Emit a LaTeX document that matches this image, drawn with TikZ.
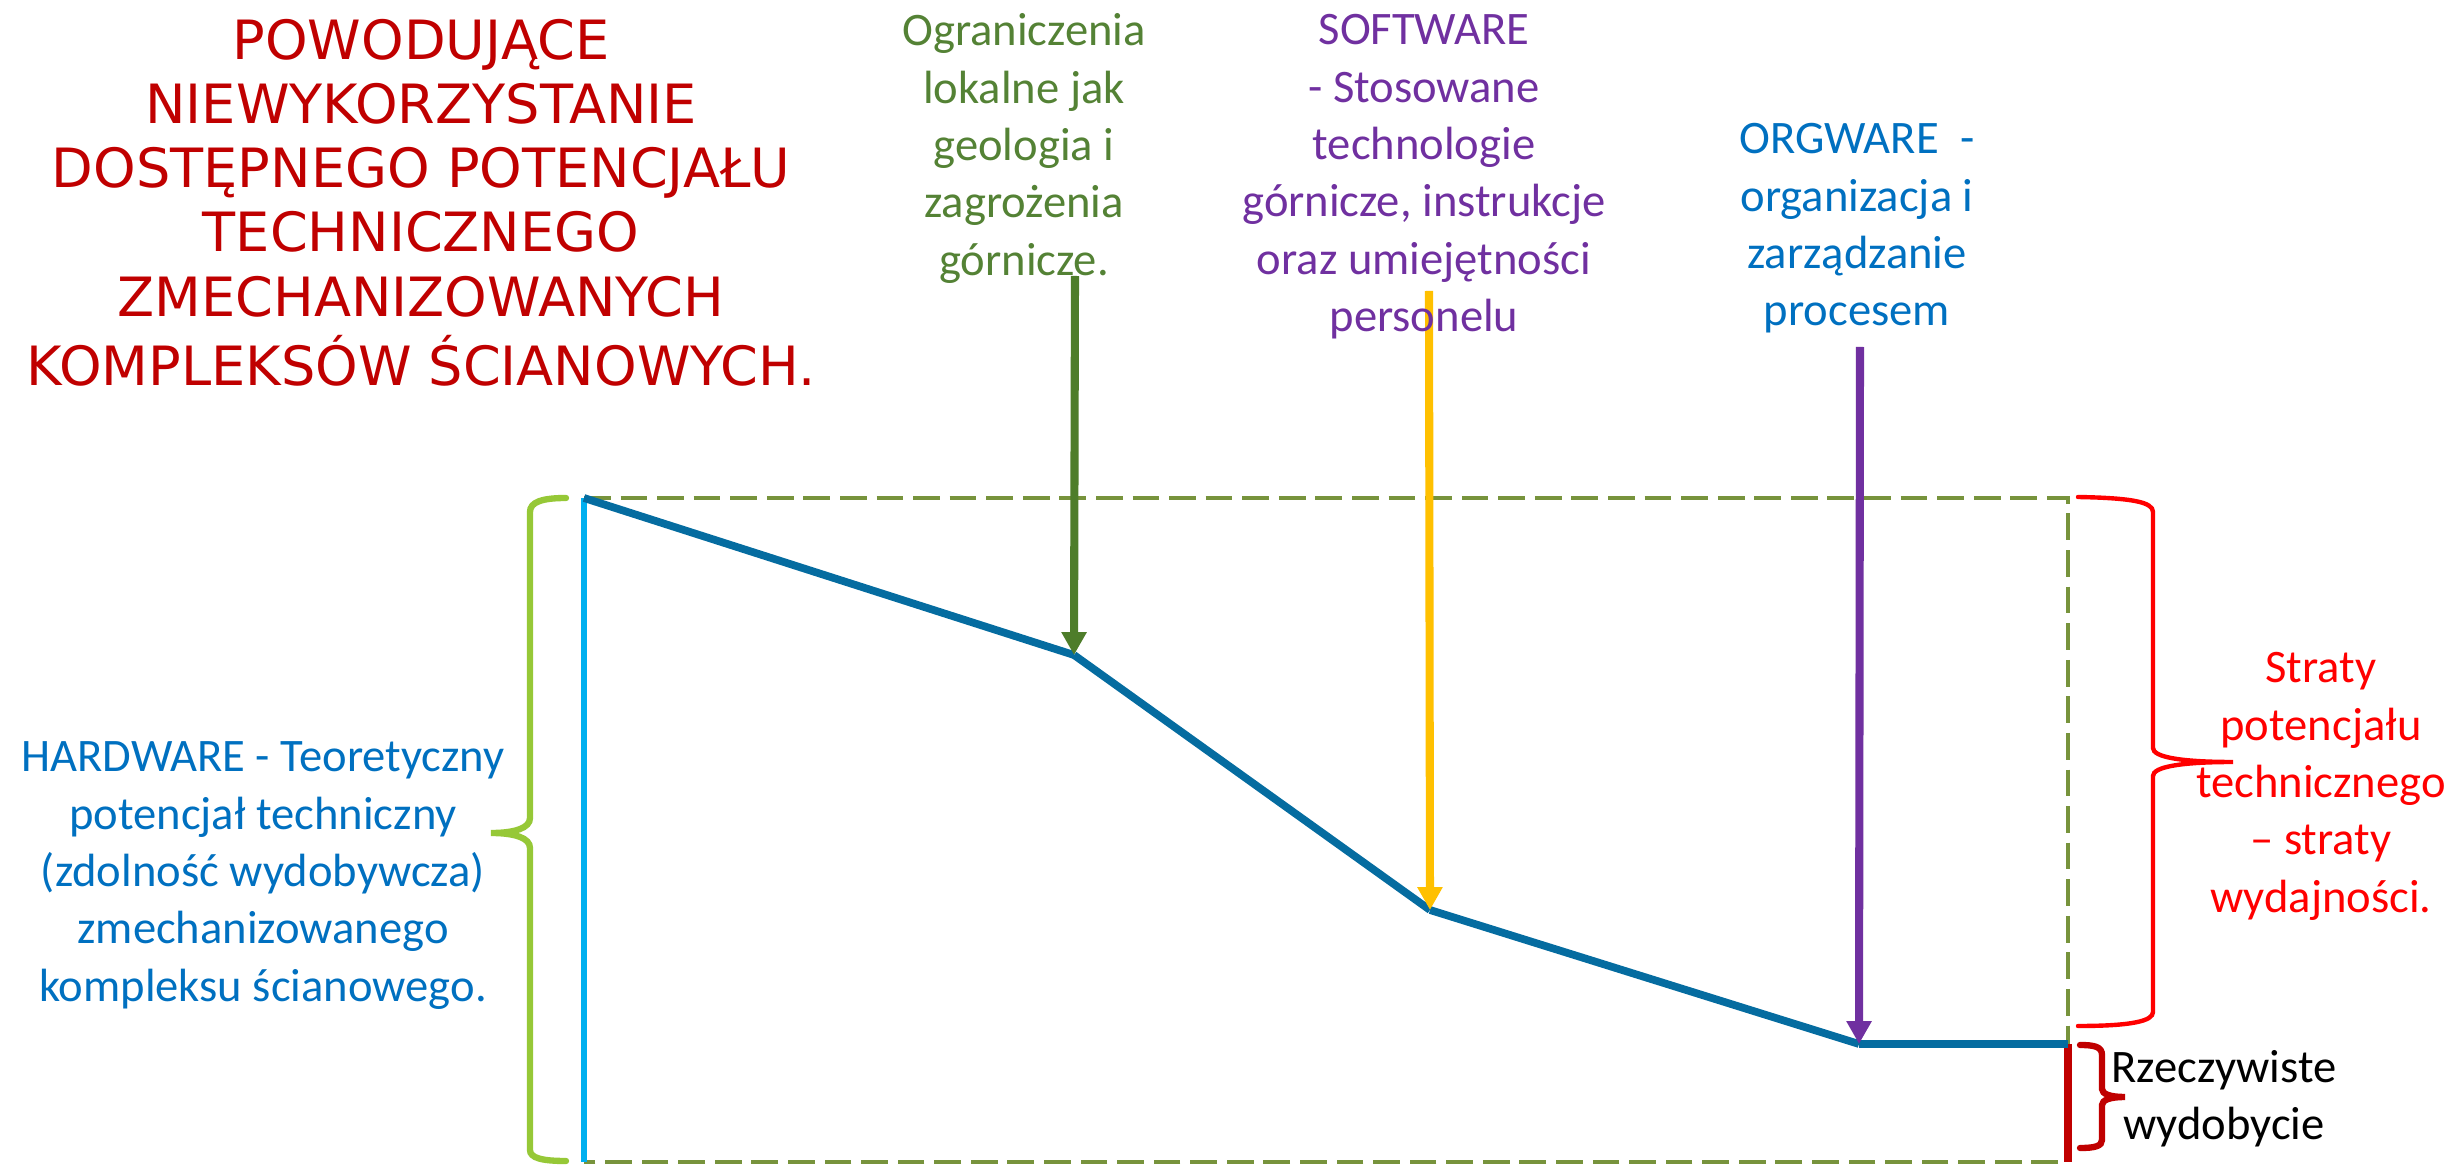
\documentclass[tikz,border=0pt]{standalone}
\usepackage{fontspec}
\setmainfont{Carlito}
\newfontfamily\titlefont{DejaVu Sans}
\usetikzlibrary{arrows.meta}
\newcommand{\stackl}[1]{\begin{tabular}[t]{@{}c@{}}#1\end{tabular}}
\definecolor{titlered}{RGB}{192,0,0}
\definecolor{labgreen}{RGB}{84,130,53}
\definecolor{arrgreen}{RGB}{78,125,42}
\definecolor{labpurple}{RGB}{112,48,160}
\definecolor{labblue}{RGB}{0,112,192}
\definecolor{brightred}{RGB}{255,0,0}
\definecolor{darkred}{RGB}{192,0,0}
\definecolor{arryellow}{RGB}{255,192,0}
\definecolor{curveblue}{RGB}{5,108,160}
\definecolor{dasholive}{RGB}{119,147,60}
\definecolor{bracegreen}{RGB}{150,200,55}
\definecolor{linecyan}{RGB}{0,176,240}
\tikzset{
  lbl/.style={inner sep=0pt, anchor=base, font=\fontsize{13.25}{16.3}\selectfont},
  ttl/.style={inner sep=0pt, anchor=base, font=\titlefont\fontsize{15.4}{18.2}\selectfont, text=titlered},
  curve/.style={line width=2.2pt, draw=curveblue},
  arr/.style={line width=2.3pt, -{Triangle[width=6.8pt,length=6.5pt]}},
  frame/.style={draw=dasholive, line width=1.15pt, dash pattern=on 7.6pt off 2.8pt},
  bracestroke/.style={line width=#1, line cap=round},
}
\begin{document}
\begin{tikzpicture}[x=0.01cm, y=-0.01cm]
\useasboundingbox (0,0) rectangle (2456,1167);

% key points of the curve
\coordinate (p0) at (584,498);
\coordinate (p1) at (1074,655);
\coordinate (p2) at (1430,910);
\coordinate (p3) at (1859,1044);
\coordinate (p4) at (2068,1044);
\coordinate (tr) at (2068,498);
\coordinate (br) at (2068,1162);
\coordinate (bl) at (584,1162);

% dashed frame
\draw[frame] (p0) -- (tr) -- (br) -- (bl);

% cyan vertical line
\draw[draw=linecyan, line width=1.5pt] (p0) -- (bl);

% dark red real output bar
\draw[draw=darkred, line width=2.5pt] (p4) -- (br);

% descending curve
\draw[curve] (p0) -- (p1);
\draw[curve] (p1) -- (p2);
\draw[curve] (p2) -- (p3);
\draw[curve] (p3) -- (p4);

% arrows
\coordinate (gtop) at (1075,276);
\coordinate (ytop) at (1429,291);
\coordinate (ptop) at (1860,347);
\draw[arr, draw=arrgreen, fill=arrgreen] (gtop) -- (p1);
\draw[arr, draw=arryellow, fill=arryellow] (ytop) -- (p2);
\draw[arr, draw=labpurple, fill=labpurple] (ptop) -- (p3);

% left green brace
\draw[bracestroke=1.8pt, draw=bracegreen]
  (566,498) .. controls (542,498) and (530,502) .. (530,512) -- (530,818)
  .. controls (530,828) and (515,833) .. (491,833)
  .. controls (515,833) and (530,838) .. (530,848) -- (530,1150)
  .. controls (530,1158) and (542,1161) .. (566,1161);

% right red brace
\draw[bracestroke=1.25pt, draw=brightred]
  (2078,497) .. controls (2132,498) and (2153,502) .. (2153,512) -- (2153,748)
  .. controls (2153,757) and (2180,762) .. (2233,762)
  .. controls (2180,762) and (2153,767) .. (2153,776) -- (2153,1012)
  .. controls (2153,1021) and (2132,1026) .. (2078,1026);

% small dark red brace
\draw[bracestroke=1.8pt, draw=darkred]
  (2080,1045) .. controls (2095,1045) and (2102,1047) .. (2102,1055) -- (2102,1089)
  .. controls (2102,1094) and (2110,1097) .. (2125,1097)
  .. controls (2110,1097) and (2102,1100) .. (2102,1105) -- (2102,1140)
  .. controls (2102,1146) and (2095,1148) .. (2080,1148);

% texts
\node[ttl] (title) at (421,60) {\stackl{POWODUJĄCE\\NIEWYKORZYSTANIE\\DOSTĘPNEGO POTENCJAŁU\\TECHNICZNEGO\\ZMECHANIZOWANYCH\\KOMPLEKSÓW ŚCIANOWYCH.}};
\node[lbl, text=labgreen] (geo) at (1024,46) {\stackl{Ograniczenia\\lokalne jak\\geologia i\\zagrożenia\\górnicze.}};
\node[lbl, text=labpurple] (soft) at (1424,45) {\stackl{SOFTWARE\\- Stosowane\\technologie\\górnicze, instrukcje\\oraz umiejętności\\personelu}};
\node[lbl, text=labblue] (org) at (1857,154) {\stackl{ORGWARE\ \ -\\organizacja i\\zarządzanie\\procesem}};
\node[lbl, text=labblue] (hard) at (263,772) {\stackl{HARDWARE - Teoretyczny\\potencjał techniczny\\(zdolność wydobywcza)\\zmechanizowanego\\kompleksu ścianowego.}};
\node[lbl, text=brightred] (loss) at (2321,683) {\stackl{Straty\\potencjału\\technicznego\\– straty\\wydajności.}};
\node[lbl, text=black] (real) at (2224,1082) {\stackl{Rzeczywiste\\wydobycie}};
\end{tikzpicture}
\end{document}
